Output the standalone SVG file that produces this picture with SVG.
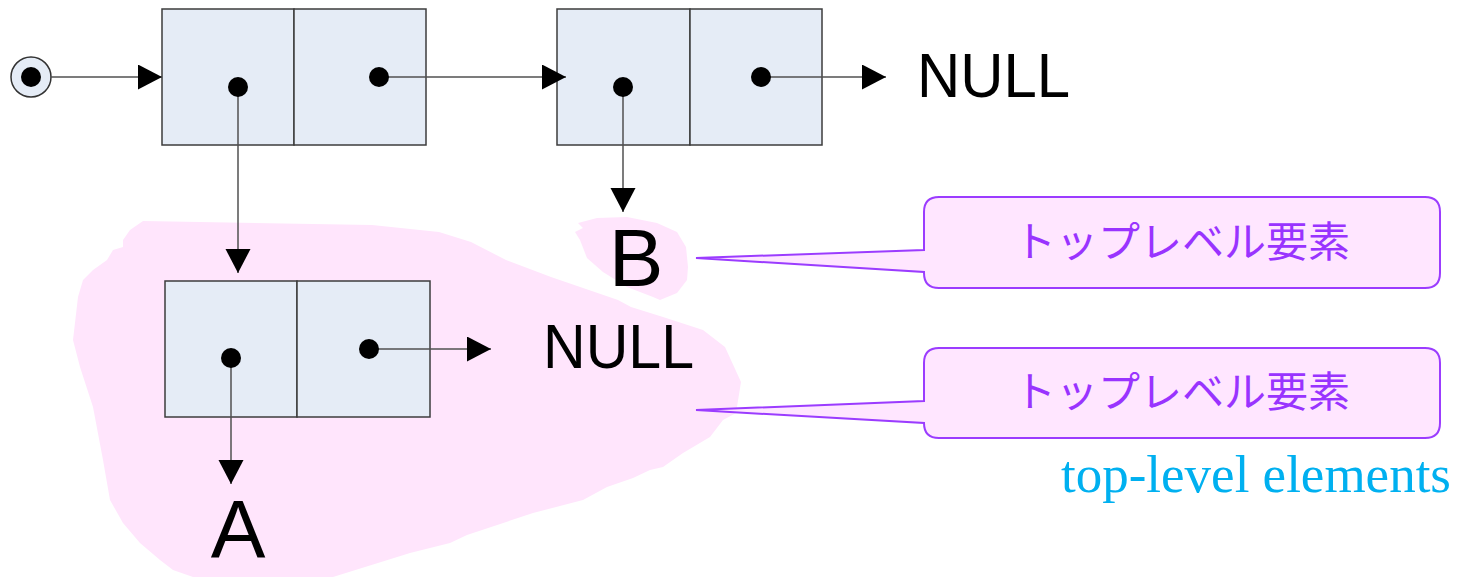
<svg xmlns="http://www.w3.org/2000/svg" width="1463" height="577" viewBox="0 0 1463 577">
  <style>
    .cell { fill: #e5ecf6; stroke: #3c3c3c; stroke-width: 1.5; }
    .dot { fill: #000; }
    .link { fill: none; stroke: #505050; stroke-width: 1.5; marker-end: url(#head); }
    .big { font-family: "Liberation Sans", Arial, sans-serif; fill: #000; }
    .blob { fill: #ffe5fc; stroke: none; }
    .callout { fill: #ffe6ff; stroke: #9b3cff; stroke-width: 2; stroke-linejoin: miter; }
    .note { font-family: "Noto Sans CJK JP", "Noto Sans", sans-serif; font-size: 42px; fill: #9933ff; text-anchor: middle; }
    .en { font-family: "Liberation Serif", "Times New Roman", serif; font-size: 53px; fill: #00b0f0; }
  </style>
  <defs>
    <marker id="head" markerUnits="userSpaceOnUse" markerWidth="26" markerHeight="26" refX="24" refY="12.5" orient="auto">
      <path d="M0,0 L24,12.5 L0,25 Z" fill="#000"/>
    </marker>
  </defs>

  <!-- highlighted regions -->
  <g id="region-list">
    <path class="blob" d="M143,221 L372,225 L439,232 L471,242 L506,260 L551,277 L618,300 L631,307 L663,317 L703,330 L725,347 L741,382 L736,413 L723,420 L710,437 L683,453 L663,467 L650,470 L633,478 L607,487 L583,500 L533,513 L467,535 L450,543 L410,553 L333,577 L193,577 L173,570 L160,560 L140,543 L123,523 L110,500 L103,460 L93,407 L80,367 L73,340 L78,297 L83,280 L93,270 L107,260 L113,250 L123,247 L123,240 L130,230 Z"/>
  </g>
  <g id="region-b">
    <path class="blob" d="M578,223 L597,218 L627,217 L657,223 L677,232 L686,247 L688,267 L687,280 L677,293 L660,300 L653,297 L627,287 L603,272 L587,258 L580,240 L575,232 L583,228 Z"/>
  </g>

  <!-- callouts -->
  <g id="callout-1">
    <path class="callout" d="M939,197 H1425 Q1440,197 1440,212 V273 Q1440,288 1425,288 H939 Q924,288 924,273 V272 L696,258 L924,250 V212 Q924,197 939,197 Z"/>
    <text class="note" x="1182" y="257">トップレベル要素</text>
  </g>
  <g id="callout-2">
    <path class="callout" d="M939,348 H1425 Q1440,348 1440,363 V423 Q1440,438 1425,438 H939 Q924,438 924,423 L696,410 L924,401 V363 Q924,348 939,348 Z"/>
    <text class="note" x="1182" y="407">トップレベル要素</text>
  </g>
  <g id="caption">
    <text class="en" x="1061" y="492">top-level elements</text>
  </g>

  <!-- start pointer -->
  <g id="start">
    <circle cx="31" cy="77" r="20" fill="#e5ecf6" stroke="#333" stroke-width="1.5"/>
    <circle class="dot" cx="31" cy="77" r="10"/>
  </g>

  <!-- cons cells -->
  <g id="cell-1">
    <rect class="cell" x="162" y="9" width="132" height="136"/>
    <rect class="cell" x="294" y="9" width="132" height="136"/>
  </g>
  <g id="cell-2">
    <rect class="cell" x="557" y="9" width="133" height="136"/>
    <rect class="cell" x="690" y="9" width="132" height="136"/>
  </g>
  <g id="cell-3">
    <rect class="cell" x="165" y="281" width="132" height="136"/>
    <rect class="cell" x="297" y="281" width="133" height="136"/>
  </g>

  <!-- pointers -->
  <g id="connectors">
    <line class="link" x1="50" y1="77" x2="162" y2="77"/>
    <line class="link" x1="379" y1="77" x2="566" y2="77"/>
    <line class="link" x1="761" y1="77" x2="886" y2="77"/>
    <line class="link" x1="623" y1="87" x2="623" y2="212"/>
    <line class="link" x1="238" y1="87" x2="238" y2="273"/>
    <line class="link" x1="369" y1="349" x2="491" y2="349"/>
    <line class="link" x1="231" y1="358" x2="231" y2="484"/>
    <circle class="dot" cx="238" cy="87" r="10"/>
    <circle class="dot" cx="379" cy="77" r="10"/>
    <circle class="dot" cx="623" cy="87" r="10"/>
    <circle class="dot" cx="761" cy="77" r="10"/>
    <circle class="dot" cx="231" cy="358" r="10"/>
    <circle class="dot" cx="369" cy="349" r="10"/>
  </g>

  <!-- atoms -->
  <g id="null-1"><text class="big" x="917" y="97" font-size="63" textLength="153" lengthAdjust="spacingAndGlyphs">NULL</text></g>
  <g id="null-2"><text class="big" x="543" y="368" font-size="63" textLength="151" lengthAdjust="spacingAndGlyphs">NULL</text></g>
  <g id="atom-a"><text class="big" x="238" y="557" font-size="82" text-anchor="middle">A</text></g>
  <g id="atom-b"><text class="big" x="636" y="286" font-size="82" text-anchor="middle">B</text></g>
</svg>
